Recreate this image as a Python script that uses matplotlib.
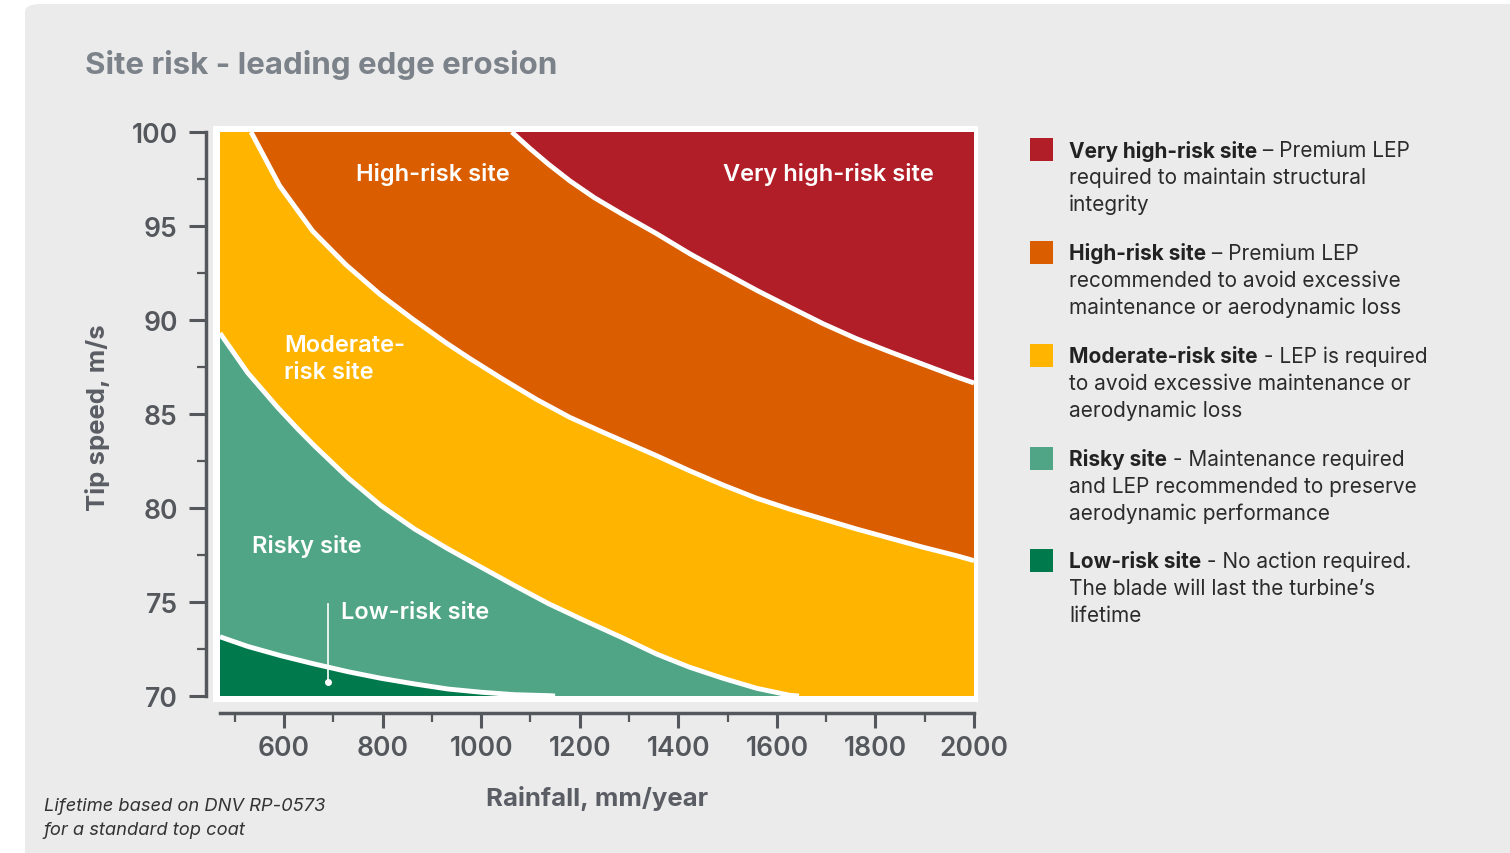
import matplotlib
matplotlib.use("Agg")
import matplotlib.pyplot as plt
from matplotlib.patches import FancyBboxPatch, Rectangle
import numpy as np

plt.rcParams['font.family'] = ['Inter', 'DejaVu Sans']

# boundary curves (rainfall mm/year -> tip speed m/s)
low_x = [470, 526, 594, 662, 730, 797, 865, 933, 1000, 1068, 1136, 1150]
low_y = [73.15, 72.64, 72.14, 71.70, 71.29, 70.94, 70.64, 70.37, 70.20, 70.07, 70.02, 70.0]

risky_x = [470, 526, 587, 628, 662, 730, 797, 865, 933, 1000, 1068, 1136, 1204,
           1288, 1356, 1423, 1491, 1559, 1626, 1645]
risky_y = [89.3, 87.2, 85.35, 84.2, 83.3, 81.6, 80.12, 78.88, 77.82, 76.85, 75.87,
           74.92, 74.08, 73.08, 72.23, 71.53, 70.94, 70.41, 70.04, 70.0]

mod_x = [533, 560, 591, 658, 726, 794, 861, 929, 977, 1044, 1112, 1180, 1247, 1356,
         1423, 1491, 1559, 1626, 1694, 1762, 1830, 1897, 1965, 2000]
mod_y = [100, 98.67, 97.14, 94.73, 92.93, 91.38, 90.05, 88.78, 87.95, 86.85, 85.78,
         84.82, 84.03, 82.78, 81.98, 81.22, 80.52, 79.94, 79.41, 78.88, 78.39, 77.91,
         77.46, 77.20]

high_x = [1062, 1100, 1136, 1180, 1230, 1288, 1356, 1423, 1491, 1559, 1626, 1694,
          1762, 1830, 1897, 1965, 2000]
high_y = [100, 99.1, 98.3, 97.4, 96.5, 95.6, 94.59, 93.53, 92.55, 91.58, 90.69,
          89.80, 89.0, 88.30, 87.64, 86.97, 86.65]

xticks = [600, 800, 1000, 1200, 1400, 1600, 1800, 2000]
yticks = [70, 75, 80, 85, 90, 95, 100]

colors = {
    'very': '#b21e28',
    'high': '#da5e00',
    'mod': '#ffb400',
    'risky': '#4fa586',
    'low': '#007a4c',
}

legend_items = [
    ('very', 'Very high-risk site', ' \u2013 Premium LEP',
     ['required to maintain structural', 'integrity']),
    ('high', 'High-risk site', ' \u2013 Premium LEP',
     ['recommended to avoid excessive', 'maintenance or aerodynamic loss']),
    ('mod', 'Moderate-risk site', ' - LEP is required',
     ['to avoid excessive maintenance or', 'aerodynamic loss']),
    ('risky', 'Risky site', ' - Maintenance required',
     ['and LEP recommended to preserve', 'aerodynamic performance']),
    ('low', 'Low-risk site', ' - No action required.',
     ['The blade will last the turbine\u2019s', 'lifetime']),
]

W, H = 1510, 854
fig = plt.figure(figsize=(W / 100, H / 100), dpi=100)
fig.patch.set_facecolor('white')


def fx(px):
    return px / W


def fy(py):
    return 1 - py / H


# grey panel
panel = FancyBboxPatch((fx(25), fy(900)), fx(1600), 895 / H,
                       boxstyle='round,pad=0,rounding_size=0.01',
                       transform=fig.transFigure, facecolor='#ebebeb',
                       edgecolor='none', zorder=-3)
fig.patches.append(panel)
# white frame around plot
frame = Rectangle((fx(213), fy(703)), fx(978 - 213), (703 - 127) / H,
                  transform=fig.transFigure, facecolor='white',
                  edgecolor='none', zorder=-1)
fig.patches.append(frame)

ax = fig.add_axes([fx(220), fy(697), fx(974 - 220), (697 - 133) / H])
ax.set_facecolor(colors['very'])
ax.set_xlim(470, 2000)
ax.set_ylim(70, 100)

# layered fills
ax.fill(high_x + [2000, 470, 470], high_y + [70, 70, 100], color=colors['high'], lw=0)
ax.fill(mod_x + [2000, 470, 470], mod_y + [70, 70, 100], color=colors['mod'], lw=0)
ax.fill(risky_x + [470], risky_y + [70], color=colors['risky'], lw=0)
ax.fill(low_x + [470], low_y + [70], color=colors['low'], lw=0)

for bx, by in [(low_x, low_y), (risky_x, risky_y), (mod_x, mod_y), (high_x, high_y)]:
    ax.plot(bx, by, color='white', lw=3.5, solid_capstyle='butt', solid_joinstyle='round')

# region labels
lab_kw = dict(color='white', fontsize=17, fontweight='semibold')
ax.text(901, 97.77, 'High-risk site', ha='center', va='center', **lab_kw)
ax.text(1704, 97.77, 'Very high-risk site', ha='center', va='center', **lab_kw)
ax.text(600, 87.95, 'Moderate-\nrisk site', ha='left', va='center', linespacing=1.3, **lab_kw)
ax.text(535, 77.98, 'Risky site', ha='left', va='center', **lab_kw)
ax.text(716, 74.47, 'Low-risk site', ha='left', va='center', **lab_kw)
ax.plot([690, 690], [74.9, 70.74], color='white', lw=1.2)
ax.plot([690], [70.74], 'o', color='white', ms=4)

# axes styling
axis_col = '#54585d'
for s in ['top', 'right']:
    ax.spines[s].set_visible(False)
ax.spines['left'].set_position(('outward', 10))
ax.spines['bottom'].set_position(('outward', 12))
for s in ['left', 'bottom']:
    ax.spines[s].set_color(axis_col)
    ax.spines[s].set_linewidth(2.5)

ax.set_xticks(xticks)
ax.set_xticks(np.arange(500, 2000, 200), minor=True)
ax.set_yticks(yticks)
ax.set_yticks(np.arange(72.5, 100, 5), minor=True)
ax.tick_params(which='major', length=11, width=2.2, color=axis_col,
               labelcolor=axis_col, labelsize=19)
ax.tick_params(which='minor', length=6.5, width=1.6, color=axis_col)
ax.tick_params(axis='y', which='major', length=12.5, pad=8)
ax.tick_params(axis='x', which='major', pad=5)
for lab in ax.get_xticklabels() + ax.get_yticklabels():
    lab.set_fontweight('semibold')

# axis labels
fig.text(fx(98), fy(418), 'Tip speed, m/s', rotation=90, ha='center', va='center',
         fontsize=18.5, fontweight='bold', color='#5a5e64')
fig.text(fx(597), fy(799), 'Rainfall, mm/year', ha='center', va='center',
         fontsize=18.5, fontweight='bold', color='#5a5e64')

# title
fig.text(fx(85), fy(65), 'Site risk - leading edge erosion', ha='left', va='center',
         fontsize=22.5, fontweight='bold', color='#7c8289')

# footnote
fig.text(fx(44), fy(807), 'Lifetime based on DNV RP-0573', ha='left', va='center',
         fontsize=13.2, style='italic', color='#333333')
fig.text(fx(44), fy(831), 'for a standard top coat', ha='left', va='center',
         fontsize=13.2, style='italic', color='#333333')

# custom legend
renderer = fig.canvas.get_renderer()
group_y = [151, 254, 357, 460, 562]
leg_fs = 15
for (key, bold, rest, lines), gy in zip(legend_items, group_y):
    fig.patches.append(Rectangle((fx(1030), fy(gy + 11)), fx(23), 23 / H,
                                 transform=fig.transFigure,
                                 facecolor=colors[key], edgecolor='none'))
    t = fig.text(fx(1069), fy(gy), bold, ha='left', va='center', fontsize=leg_fs,
                 fontweight='bold', color='#222222')
    bb = t.get_window_extent(renderer)
    fig.text(bb.x1 / W, fy(gy), rest, ha='left', va='center', fontsize=leg_fs,
             color='#2b2b2b')
    for i, ln in enumerate(lines):
        fig.text(fx(1069), fy(gy + 27 * (i + 1)), ln, ha='left', va='center',
                 fontsize=leg_fs, color='#2b2b2b')

fig.savefig('out.png', dpi=100, facecolor=fig.get_facecolor())
